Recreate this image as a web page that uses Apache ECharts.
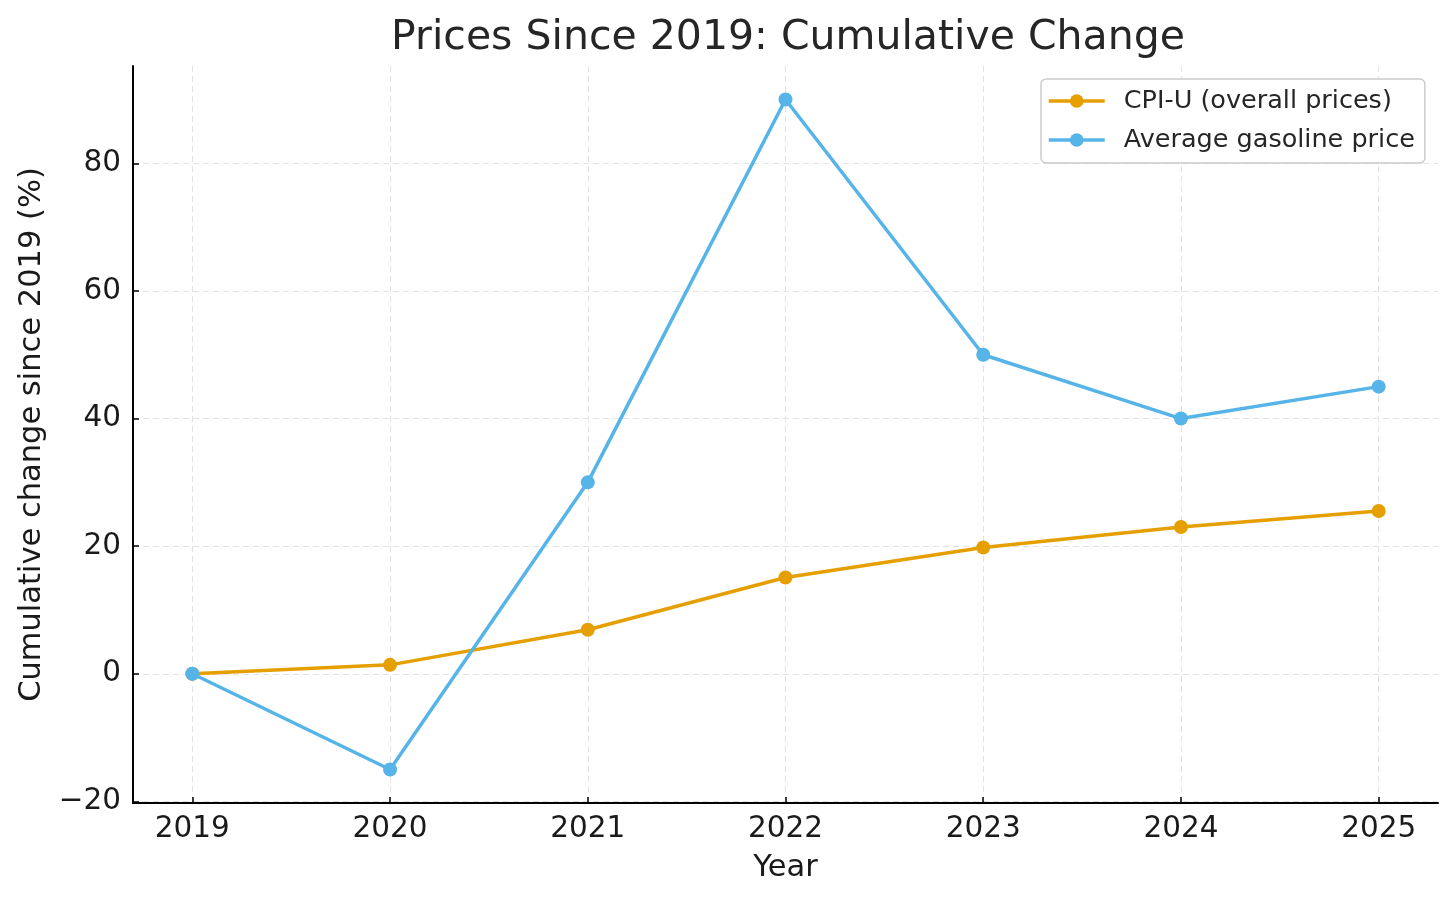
<!DOCTYPE html>
<html>
<head>
<meta charset="utf-8">
<script src="https://cdn.jsdelivr.net/npm/echarts@6/dist/echarts.min.js"></script>
<style>
html,body{margin:0;padding:0;background:#fff;}
#c{width:1456px;height:903px;}
</style>
</head>
<body>
<div id="c"></div>
<script>
const years = [2019, 2020, 2021, 2022, 2023, 2024, 2025];
const cpiValues = [0, 1.4, 6.9, 15.1, 19.8, 23.0, 25.5];
const gasValues = [0, -15, 30, 90, 50, 40, 45];
const yTicks = [-20, 0, 20, 40, 60, 80];
const seriesNames = ['CPI-U (overall prices)', 'Average gasoline price'];

const FONT = '"DejaVu Sans", sans-serif';
const chart = echarts.init(document.getElementById('c'));
const mk = (vals) => years.map((y, i) => [y, vals[i]]);

chart.setOption({
  animation: false,
  backgroundColor: '#fff',
  title: {
    text: 'Prices Since 2019: Cumulative Change',
    left: 783, top: 13, textAlign: 'center',
    textStyle: {fontFamily: FONT, fontSize: 41, fontWeight: 'normal', color: '#262626'}
  },
  grid: {left: 133, right: 18, top: 66, bottom: 100, containLabel: false},
  legend: {
    orient: 'vertical', left: 1041, top: 79,
    padding: [9, 10, 10, 6],
    itemWidth: 56, itemHeight: 17, itemGap: 13,
    borderColor: '#cccccc', borderWidth: 1.5, borderRadius: 5,
    backgroundColor: 'rgba(255,255,255,0.85)',
    lineStyle: {width: 3.5},
    textStyle: {fontFamily: FONT, fontSize: 25.5, color: '#262626', padding: [0, 0, 0, 14]},
    data: seriesNames
  },
  xAxis: {
    type: 'value', min: 2018.7, max: 2025.3,
    name: 'Year', nameLocation: 'middle', nameGap: 50,
    nameTextStyle: {fontFamily: FONT, fontSize: 30.5, color: '#1a1a1a'},
    axisLine: {show: true, onZero: false, lineStyle: {color: '#000', width: 2}},
    axisTick: {show: true, inside: true, length: 6, lineStyle: {color: '#000', width: 1.5}, customValues: years},
    axisLabel: {fontFamily: FONT, fontSize: 29.5, color: '#1a1a1a', margin: 11, customValues: years, formatter: v => String(v)},
    splitLine: {show: true, lineStyle: {color: '#e3e3e3', type: [6, 4], width: 1}}
  },
  yAxis: {
    type: 'value', min: -20.25, max: 95.25,
    name: 'Cumulative change since 2019 (%)', nameLocation: 'middle', nameGap: 84,
    nameTextStyle: {fontFamily: FONT, fontSize: 30.5, color: '#1a1a1a'},
    axisLine: {show: true, onZero: false, lineStyle: {color: '#000', width: 2}},
    axisTick: {show: true, inside: true, length: 6, lineStyle: {color: '#000', width: 1.5}, customValues: yTicks},
    axisLabel: {fontFamily: FONT, fontSize: 29.5, color: '#1a1a1a', margin: 12, customValues: yTicks,
      formatter: v => (v < 0 ? '\u2212' + Math.abs(v) : String(v))},
    splitLine: {show: true, lineStyle: {color: '#e3e3e3', type: [6, 4], width: 1}}
  },
  series: [
    {
      name: seriesNames[0], type: 'line', data: mk(cpiValues),
      symbol: 'circle', symbolSize: 14, color: '#E69F00',
      lineStyle: {width: 3.5, color: '#E69F00'}, itemStyle: {color: '#E69F00'}
    },
    {
      name: seriesNames[1], type: 'line', data: mk(gasValues),
      symbol: 'circle', symbolSize: 14, color: '#56B4E9',
      lineStyle: {width: 3.5, color: '#56B4E9'}, itemStyle: {color: '#56B4E9'}
    }
  ]
});
</script>
</body>
</html>
